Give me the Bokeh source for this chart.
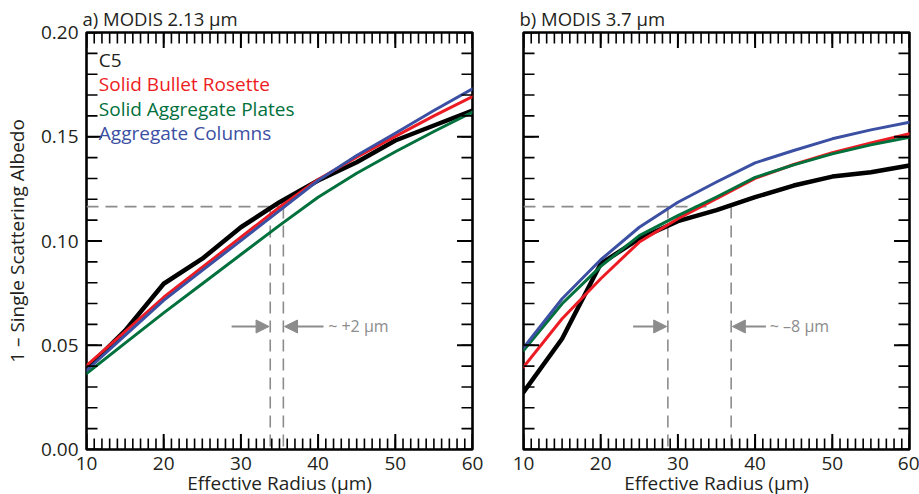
import numpy as np
from bokeh.plotting import figure
from bokeh.layouts import row
from bokeh.models import (Range1d, FixedTicker, LinearAxis, NumeralTickFormatter,
                          Arrow, NormalHead, ColumnDataSource)
from bokeh.embed import file_html
from bokeh.resources import INLINE
from bokeh.core.properties import value

# ---------------- data ----------------
radius = [10, 15, 20, 25, 30, 35, 40, 45, 50, 55, 60]

# a) MODIS 2.13 um
a_c5  = [0.0388, 0.0570, 0.0795, 0.0915, 0.1066, 0.1186, 0.1290, 0.1378, 0.1482, 0.1554, 0.1626]
a_sbr = [0.0403, 0.0565, 0.0730, 0.0874, 0.1018, 0.1162, 0.1295, 0.1402, 0.1502, 0.1600, 0.1693]
a_sap = [0.0364, 0.0510, 0.0655, 0.0795, 0.0935, 0.1075, 0.1210, 0.1325, 0.1428, 0.1525, 0.1618]
a_agc = [0.0379, 0.0547, 0.0715, 0.0859, 0.1002, 0.1146, 0.1290, 0.1410, 0.1517, 0.1626, 0.1730]

# b) MODIS 3.7 um
b_c5  = [0.0275, 0.0531, 0.0891, 0.1011, 0.1095, 0.1148, 0.1210, 0.1266, 0.1309, 0.1330, 0.1362]
b_sbr = [0.0395, 0.0627, 0.0819, 0.0995, 0.1107, 0.1203, 0.1300, 0.1367, 0.1423, 0.1470, 0.1514]
b_sap = [0.0475, 0.0699, 0.0878, 0.1026, 0.1122, 0.1211, 0.1305, 0.1365, 0.1418, 0.1461, 0.1498]
b_agc = [0.0488, 0.0723, 0.0910, 0.1066, 0.1186, 0.1283, 0.1375, 0.1434, 0.1490, 0.1533, 0.1570]

series_names = ["C5", "Solid Bullet Rosette", "Solid Aggregate Plates", "Aggregate Columns"]
series_colors = ["#000000", "#ed1c24", "#00703c", "#3c50a3"]

panel_titles = ["a) MODIS 2.13 \u00b5m", "b) MODIS 3.7 \u00b5m"]

# reference albedo and retrieved radii (dashed guides)
ref_albedo = [0.1165, 0.1165]
hline_end = [35.5, 34.0]
retr_left = [33.8, 28.7]
retr_right = [35.5, 36.9]
arrow_tail_left = [28.8, 24.2]
arrow_tail_right = [40.7, 41.4]
shift_text = ["~ +2 \u00b5m", "~ \u20138 \u00b5m"]
shift_text_x = [41.3, 41.9]
arrow_y = [0.059, 0.059]

x_tick_labels = ["10", "20", "30", "40", "50", "60"]
y_tick_labels = ["0.00", "0.05", "0.10", "0.15", "0.20"]
x_minor_step = 1
y_minor_step = 0.01

FONT = "Open Sans"
TXT = "#231f20"
GRAY = "#8c8c8c"
FW, FH = 386, 417

x_major = [float(t) for t in x_tick_labels]
y_major = [float(t) for t in y_tick_labels]
x_minor = [float(v) for v in np.arange(x_major[0], x_major[-1] + 1e-9, x_minor_step)]
y_minor = [float(v) for v in np.round(np.arange(y_major[0], y_major[-1] + 1e-9, y_minor_step), 4)]
X0, X1 = x_major[0], x_major[-1]
Y0, Y1 = y_major[0], y_major[-1]
DX = (X1 - X0) / FW
DY = (Y1 - Y0) / FH
TICK_MAJOR = 15.5
TICK_MINOR = 11.0


def style_axis(ax):
    ax.axis_line_color = None
    ax.major_tick_line_color = None
    ax.minor_tick_line_color = None
    ax.major_tick_in = 0
    ax.major_tick_out = 0
    ax.minor_tick_in = 0
    ax.minor_tick_out = 0
    ax.major_label_text_font = FONT
    ax.major_label_text_color = TXT
    ax.major_label_text_font_size = "19px"
    ax.axis_label_text_font = FONT
    ax.axis_label_text_font_style = "normal"
    ax.axis_label_text_color = TXT
    ax.axis_label_text_font_size = "19px"


def add_ticks(p):
    # inward ticks on all four sides
    for xs, ln, lw in ((x_minor, TICK_MINOR, 1.6), (x_major, TICK_MAJOR, 2.0)):
        L = ln * DY
        p.segment(x0=xs, y0=[Y0] * len(xs), x1=xs, y1=[Y0 + L] * len(xs), line_color="black", line_width=lw)
        p.segment(x0=xs, y0=[Y1] * len(xs), x1=xs, y1=[Y1 - L] * len(xs), line_color="black", line_width=lw)
    for ys, ln, lw in ((y_minor, TICK_MINOR, 1.6), (y_major, TICK_MAJOR, 2.0)):
        L = ln * DX
        p.segment(x0=[X0] * len(ys), y0=ys, x1=[X0 + L] * len(ys), y1=ys, line_color="black", line_width=lw)
        p.segment(x0=[X1] * len(ys), y0=ys, x1=[X1 - L] * len(ys), y1=ys, line_color="black", line_width=lw)


def make_panel(idx, series, bl, br, show_y):
    p = figure(frame_width=FW, frame_height=FH, output_backend="svg", toolbar_location=None,
               x_range=Range1d(X0, X1), y_range=Range1d(Y0, Y1),
               min_border_left=bl, min_border_right=br, min_border_top=32, min_border_bottom=0,
               x_axis_location=None, y_axis_location=None,
               title=panel_titles[idx])
    p.grid.visible = False
    p.outline_line_color = "black"
    p.outline_line_width = 2.6
    p.background_fill_color = "white"
    p.border_fill_color = "white"

    bottom = LinearAxis(ticker=FixedTicker(ticks=x_major), axis_label="Effective Radius (\u00b5m)")
    style_axis(bottom)
    bottom.major_label_standoff = 7
    bottom.axis_label_standoff = -3
    p.add_layout(bottom, "below")

    if show_y:
        left = LinearAxis(ticker=FixedTicker(ticks=y_major),
                          formatter=NumeralTickFormatter(format="0.00"),
                          axis_label="1 \u2013 Single Scattering Albedo")
        style_axis(left)
        left.major_label_standoff = 8
        left.axis_label_standoff = 8
        p.add_layout(left, "left")

    p.title.text_font = FONT
    p.title.text_font_size = "18.5px"
    p.title.text_font_style = "normal"
    p.title.text_color = TXT
    p.title.align = "left"
    p.title.offset = -4
    p.title.standoff = 4

    dash = dict(line_color=GRAY, line_width=1.6, line_dash="12 7")
    ra = ref_albedo[idx]
    p.line([X0, hline_end[idx]], [ra, ra], **dash)
    p.line([retr_left[idx], retr_left[idx]], [ra, Y0], **dash)
    p.line([retr_right[idx], retr_right[idx]], [ra, Y0], **dash)

    widths = [4.5, 3, 3, 3]
    for vals, col, w in zip(series, series_colors, widths):
        p.line(radius, vals, line_color=col, line_width=w, line_join="round", line_cap="round")

    add_ticks(p)

    ay = arrow_y[idx]
    xl, xr = retr_left[idx], retr_right[idx]
    head = lambda: NormalHead(size=13, fill_color=GRAY, line_color=GRAY, line_width=1)
    p.add_layout(Arrow(end=head(), x_start=arrow_tail_left[idx], y_start=ay, x_end=xl - 0.15,
                       y_end=ay, line_color=GRAY, line_width=2))
    p.add_layout(Arrow(end=head(), x_start=arrow_tail_right[idx], y_start=ay, x_end=xr + 0.15,
                       y_end=ay, line_color=GRAY, line_width=2))
    p.text(x=[shift_text_x[idx]], y=[ay], text=[shift_text[idx]], text_font=value(FONT),
           text_font_size="16px", text_color=GRAY, text_baseline="middle", text_align="left")
    return p


p1 = make_panel(0, [a_c5, a_sbr, a_sap, a_agc], 85, 19, True)
p2 = make_panel(1, [b_c5, b_sbr, b_sap, b_agc], 32, 10, False)

# legend text in panel a
leg_y = [0.1869 - i * 0.01175 for i in range(len(series_names))]
src = ColumnDataSource(dict(x=[11.6] * len(series_names), y=leg_y, t=series_names,
                            c=[TXT] + series_colors[1:]))
p1.text(x="x", y="y", text="t", text_color="c", source=src, text_font=value(FONT),
        text_font_size="19px", text_baseline="alphabetic", text_align="left")

layout = row(p1, p2, spacing=0)
open("out.html", "w").write(file_html(layout, INLINE))
